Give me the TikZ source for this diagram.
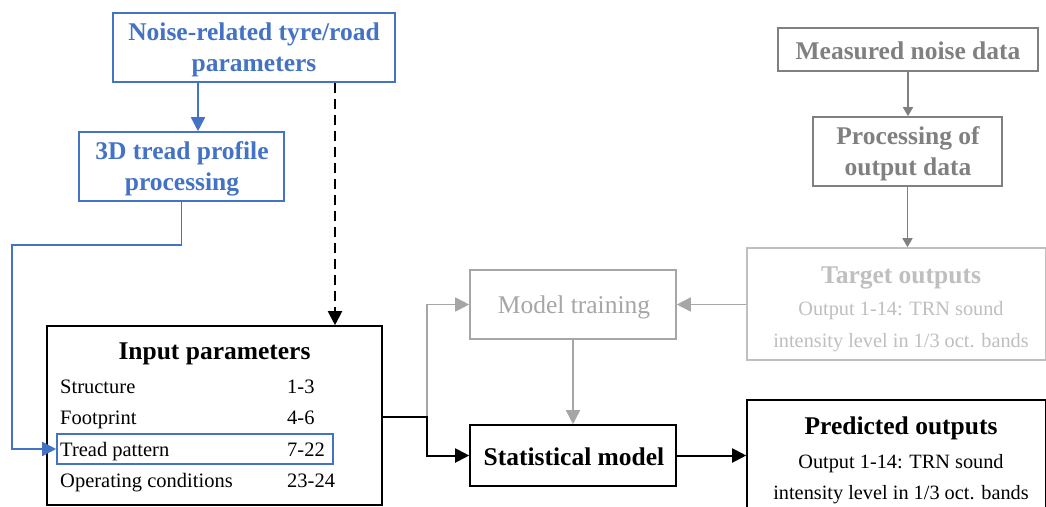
\documentclass[tikz,border=0pt]{standalone}
\usepackage{fontspec}
\setmainfont{Liberation Serif}
\usetikzlibrary{arrows.meta,calc}
\definecolor{myblue}{HTML}{4472C4}
\definecolor{gA}{HTML}{808080}
\definecolor{gB}{HTML}{A6A6A6}
\definecolor{gC}{HTML}{BFBFBF}
\newcommand\hdrfont{\fontsize{25.5}{31}\selectfont\bfseries}
\newcommand\rowfont{\fontsize{20.5}{24}\selectfont}
\newcommand\outfont{\fontsize{20.3}{24}\selectfont}
\tikzset{
  box/.style={draw, line width=1.6pt, inner sep=0pt},
  txt/.style={inner sep=0pt, align=center, font=\hdrfont, yshift=-2.5pt},
  row/.style={inner sep=0pt, anchor=west, font=\rowfont, text height=14pt, text depth=4pt, yshift=-2pt},
  tip/.style={-{Triangle[length=14pt,width=14pt]}},
  smalltip/.style={-{Triangle[length=9pt,width=10pt]}},
}
\begin{document}
\begin{tikzpicture}[x=1pt,y=-1pt]
\clip (0,0) rectangle (1046,506);
\fill[white] (0,0) rectangle (1046,506);
% blue boxes
\node[box, draw=myblue, minimum width=282pt, minimum height=69pt] (noise) at (254,47.5) {};
\node[txt, text=myblue] (noiset) at (254,47.5) {Noise-related tyre/road\\parameters};
\node[box, draw=myblue, minimum width=205pt, minimum height=69pt] (tread3d) at (181.5,166.5) {};
\node[txt, text=myblue] (tread3dt) at (182,166.5) {3D tread profile\\processing};
% input parameters
\node[box, minimum width=335pt, minimum height=179pt] (input) at (214.5,415.5) {};
\node[txt] (ipt) at (214.5,351) {Input parameters};
\node[row] (r1) at (60,386) {Structure};
\node[row] (n1) at (287,386) {1-3};
\node[row] (r2) at (60,417) {Footprint};
\node[row] (n2) at (287,417) {4-6};
\node[row] (r3) at (60,449) {Tread pattern};
\node[row] (n3) at (287,449) {7-22};
\node[row] (r4) at (60,480) {Operating conditions};
\node[row] (n4) at (287,480) {23-24};
\node[box, draw=myblue, minimum width=276pt, minimum height=30pt] (tp) at (195,449) {};
% middle
\node[box, draw=gB, minimum width=206pt, minimum height=69pt] (mt) at (573,304.5) {};
\node[txt, text=gB, font=\fontsize{25.5}{31}\selectfont] (mtt) at (574,304.5) {Model training};
\node[box, minimum width=206pt, minimum height=61pt] (sm) at (573,455.5) {};
\node[txt] (smt) at (574,454.5) {Statistical model};
% right column
\node[box, draw=gA, minimum width=260pt, minimum height=43pt] (meas) at (908,49.5) {};
\node[txt, text=gA] (meast) at (908,48) {Measured noise data};
\node[box, draw=gA, minimum width=189pt, minimum height=69pt] (proc) at (907.5,151.5) {};
\node[txt, text=gA] (proct) at (908,151) {Processing of\\output data};
\node[box, draw=gC, minimum width=299pt, minimum height=112pt] (target) at (896.5,304) {};
\node[txt, text=gC] (tt) at (901,275) {Target outputs};
\node[txt, font=\outfont, text=gC] (tl1) at (901,308) {Output 1-14: TRN sound};
\node[txt, font=\outfont, text=gC] (tl2) at (901,340) {intensity level in 1/3 oct. bands};
\node[box, minimum width=299pt, minimum height=114pt] (pred) at (896.5,457) {};
\node[txt] (pt) at (901,426) {Predicted outputs};
\node[txt, font=\outfont] (pl1) at (901,461) {Output 1-14: TRN sound};
\node[txt, font=\outfont] (pl2) at (901,492) {intensity level in 1/3 oct. bands};
% connectors
\draw[myblue, line width=1.6pt, tip] (noise.south -| 198,0) -- (tread3d.north -| 198,0);
\coordinate (bl) at (12,245);
\draw[myblue, line width=1.6pt, tip] (tread3d.south) |- (bl) |- (tp.west);
\coordinate (dx) at (335,0);
\draw[black, line width=2.8pt, dash pattern=on 10pt off 6pt] (noise.south -| dx) -- ($(input.north -| dx)+(0,-14)$);
\draw[black, line width=2pt, tip] ($(input.north -| dx)+(0,-14)$) -- (input.north -| dx);
\coordinate (split) at (427,416.5);
\draw[gB, line width=1.6pt, tip] (split) |- (mt.west);
\draw[black, line width=2pt, tip] (input.east |- split) -- (split) |- (sm.west);
\draw[gB, line width=1.6pt, tip] (mt.south) -- (sm.north);
\draw[gB, line width=1.6pt, tip] (target.west |- mt.east) -- (mt.east);
\draw[black, line width=2pt, tip] (sm.east) -- (pred.west |- sm.east);
\draw[gA, line width=1.6pt, smalltip] (meas.south) -- (proc.north -| meas.south);
\draw[gA, line width=1.6pt, smalltip] (proc.south) -- (proc.south |- target.north);
\end{tikzpicture}
\end{document}
